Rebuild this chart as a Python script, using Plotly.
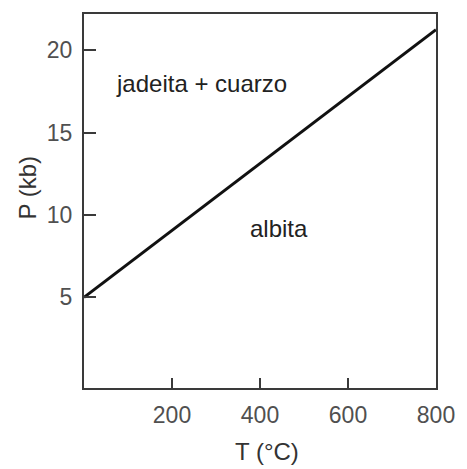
import plotly.graph_objects as go

# Jadeite + quartz = albite reaction boundary
temp_c = [0, 800]
pressure_kb = [5.0, 21.25]

x_ticks = [200, 400, 600, 800]
y_ticks = [5, 10, 15, 20]

field_labels = ["jadeita + cuarzo", "albita"]
field_t = [268, 444]
field_p = [18.0, 9.2]

FONT = "Liberation Sans, Arial, sans-serif"

fig = go.Figure()
fig.add_trace(go.Scatter(
    x=temp_c, y=pressure_kb, mode="lines",
    line=dict(color="#111111", width=3),
    hoverinfo="skip", showlegend=False,
))

for label, t, p in zip(field_labels, field_t, field_p):
    fig.add_annotation(x=t, y=p, text=label, showarrow=False,
                       font=dict(family=FONT, size=24, color="#222222"))

axis_common = dict(
    showgrid=False, zeroline=False,
    showline=True, linecolor="#3a3a3a", linewidth=2, mirror=True,
    ticks="inside", tickcolor="#3a3a3a", tickwidth=2,
    tickfont=dict(family=FONT, size=23, color="#505050"),
)

fig.update_xaxes(range=[0, 800], tickvals=x_ticks, ticklen=10,
                 ticklabelstandoff=5, **axis_common)
fig.update_yaxes(range=[-0.5, 22.2], tickvals=y_ticks, ticklen=12,
                 ticklabelstandoff=5, **axis_common)

# Axis titles
fig.add_annotation(xref="paper", yref="paper", x=0.52, y=-0.17,
                   yanchor="middle", text="T (°C)", showarrow=False,
                   font=dict(family=FONT, size=24, color="#333333"))
fig.add_annotation(xref="paper", yref="paper", x=-0.16, y=0.535,
                   xanchor="center", text="P (kb)", textangle=-90,
                   showarrow=False,
                   font=dict(family=FONT, size=24, color="#333333"))

fig.update_layout(
    width=467, height=469,
    margin=dict(l=84, r=25, t=13, b=81),
    paper_bgcolor="white", plot_bgcolor="white",
)

fig.write_html("out.html")
